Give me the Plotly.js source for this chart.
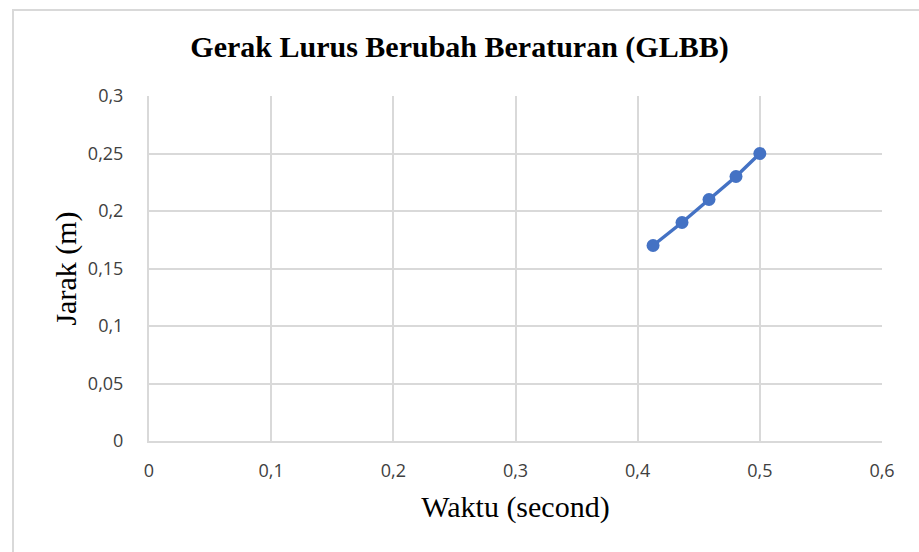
<!DOCTYPE html>
<html><head><meta charset="utf-8">
<script src="https://cdn.plot.ly/plotly-3.0.1.min.js"></script>
<style>
html,body{margin:0;padding:0;background:#fff;}
#wrap{position:relative;width:919px;height:552px;overflow:hidden;}
#frame{position:absolute;left:12px;top:9px;width:1000px;height:1000px;border-top:2px solid #d9d9d9;border-left:2px solid #d9d9d9;pointer-events:none;}
#chart{position:absolute;left:0;top:0;width:919px;height:552px;}
</style></head>
<body><div id="wrap"><div id="chart"></div><div id="frame"></div></div>
<script>
const waktu = [0.4126, 0.4363, 0.4584, 0.4805, 0.5];
const jarak = [0.17, 0.19, 0.21, 0.23, 0.25];
const xTicks = [0, 0.1, 0.2, 0.3, 0.4, 0.5, 0.6];
const yTicks = [0, 0.05, 0.1, 0.15, 0.2, 0.25, 0.3];

const trace = {
  x: waktu, y: jarak, type: 'scatter', mode: 'lines+markers',
  line: {color: '#4472C4', width: 3.5},
  marker: {color: '#4472C4', size: 13},
  hoverinfo: 'x+y'
};
const tickFont = {family: '"Open Sans", Lato, sans-serif', size: 18, color: '#404040'};
const serif = '"Liberation Serif", "Times New Roman", serif';
const layout = {
  width: 919, height: 552,
  margin: {l: 149, r: 37, t: 96, b: 111},
  separators: ',.',
  paper_bgcolor: '#fff', plot_bgcolor: '#fff',
  showlegend: false,
  title: {text: '<b>Gerak Lurus Berubah Beraturan (GLBB)</b>', font: {family: serif, size: 30, color: '#000'}, x: 0.5, xanchor: 'center', y: 0.915, yanchor: 'middle'},
  xaxis: {
    range: [0, 0.6], tickvals: xTicks, tickformat: '.1~f',
    showgrid: true, gridcolor: '#d9d9d9', gridwidth: 2,
    showline: true, linecolor: '#d9d9d9', linewidth: 2,
    zeroline: false, ticks: '', ticklabelstandoff: 12,
    tickfont: tickFont,
    title: {text: 'Waktu (second)', font: {family: serif, size: 30, color: '#000'}, standoff: 15}
  },
  yaxis: {
    range: [0, 0.3], tickvals: yTicks, tickformat: '.2~f',
    showgrid: true, gridcolor: '#d9d9d9', gridwidth: 2,
    showline: true, linecolor: '#d9d9d9', linewidth: 2,
    zeroline: false, ticks: '', ticklabelstandoff: 20,
    tickfont: tickFont,
    title: {text: 'Jarak (m)', font: {family: serif, size: 30, color: '#000'}, standoff: 2}
  }
};
Plotly.newPlot('chart', [trace], layout, {displayModeBar: false, staticPlot: true});
</script></body></html>
